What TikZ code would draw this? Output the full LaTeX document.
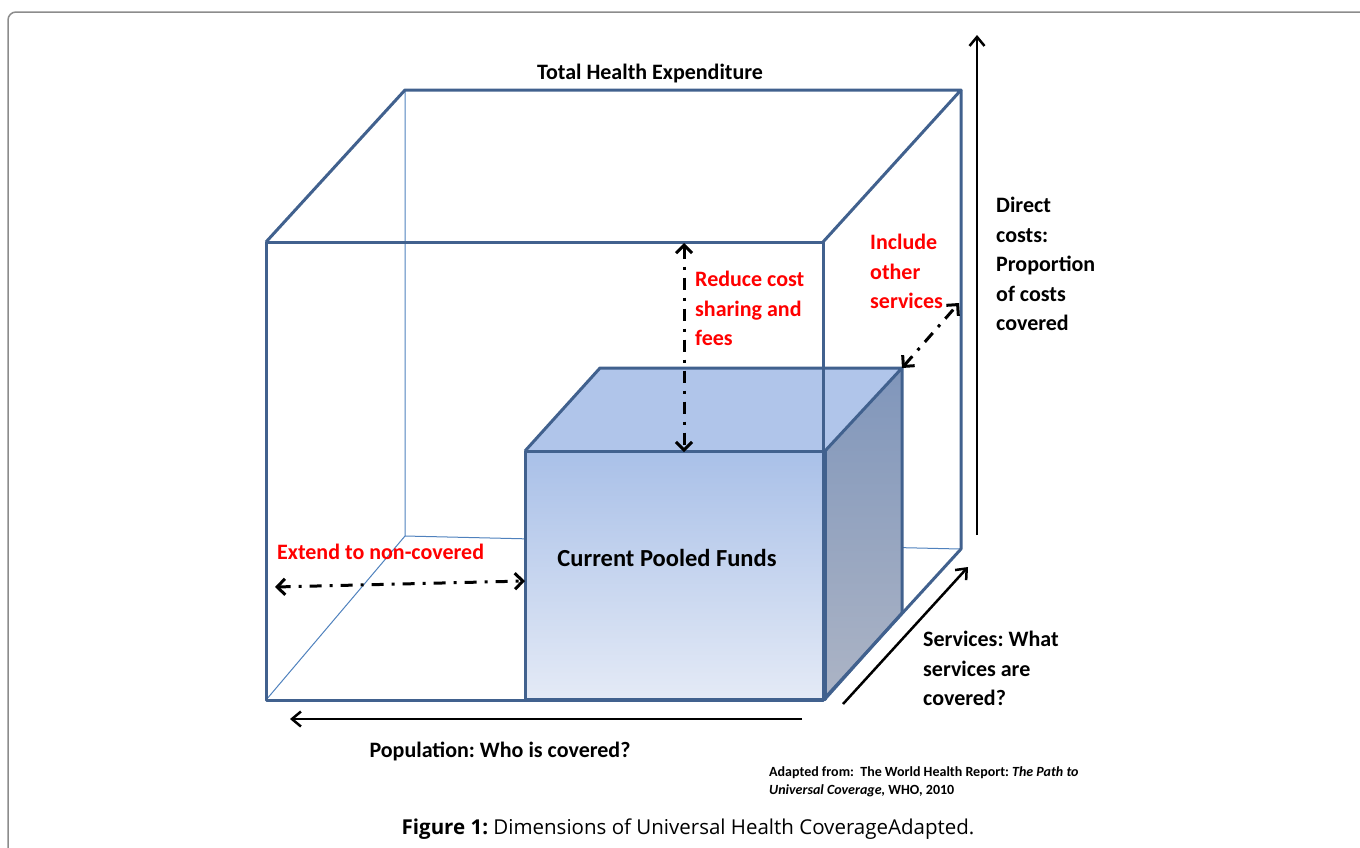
\documentclass[tikz,border=0pt]{standalone}
\usepackage{fontspec}
\setmainfont{Carlito}
\newfontfamily\capfont{Open Sans}
\frenchspacing
\usetikzlibrary{arrows.meta}
\definecolor{boxblue}{RGB}{65,97,142}
\definecolor{thinblue}{RGB}{79,129,189}
\definecolor{framegray}{RGB}{140,140,140}
\definecolor{fundtop}{RGB}{169,192,232}
\definecolor{fundbottom}{RGB}{228,234,246}
\definecolor{fundlid}{RGB}{176,197,234}
\definecolor{sidetop}{RGB}{128,150,187}
\definecolor{sidebottom}{RGB}{172,180,197}
\tikzset{outerline/.style={draw=boxblue, line width=3pt, line join=round},
%thin lines are the hidden back edges
backline/.style={draw=thinblue, line width=1pt},
dimarrow/.style={draw=black, line width=2.5pt, -{Straight Barb[length=9pt,width=15pt]}},
widen/.style={draw=black, line width=3pt, dash pattern=on 12pt off 8pt on 3pt off 8pt,
  {Straight Barb[length=8pt,width=16pt]}-{Straight Barb[length=8pt,width=16pt]}},
dimtext/.style={font=\fontsize{22}{29.5}\selectfont\bfseries, align=left, inner sep=0pt},
redtext/.style={dimtext, text=red}}

\begin{document}
\begin{tikzpicture}[x=1pt, y=-1pt]
    \useasboundingbox (0,0) rectangle (1360,847);
    \draw[framegray, line width=1.5pt, rounded corners=8pt] (1400,12) -- (8,12) -- (8,900);

    % back edges of the total box
    \draw[backline] (405,90) -- (405,536) -- (960,549);
    \draw[backline] (266,700) -- (405,536);

    % current pooled funds
    \shade[top color=fundtop, bottom color=fundbottom] (525,451) rectangle (825,699);
    \fill[fundlid] (525,451) -- (600,368) -- (902,368) -- (825,451) -- cycle;
    \shade[top color=sidetop, bottom color=sidebottom] (825,451) -- (902,368) -- (902,613) -- (825,699) -- cycle;
    \draw[outerline] (525,451) rectangle (825,699);
    \draw[outerline] (525,451) -- (600,368) -- (902,368) -- (825,451);
    \draw[outerline] (902,368) -- (902,613) -- (825,699);

    % front of the total box
    \draw[outerline] (266,242) rectangle (823,700);
    \draw[outerline] (266,242) -- (405,90) -- (961,90) -- (823,242);
    \draw[outerline] (961,90) -- (961,549) -- (823,700);

    \node[dimtext] (total) at (650,74) {Total Health Expenditure};
    \node[dimtext, font=\fontsize{24.5}{28}\selectfont\bfseries] (pooled) at (667,558) {Current Pooled Funds};
    \node[dimtext, anchor=north west] (direct) at (996,197) {Direct\\costs:\\Proportion\\of costs\\covered};
    \node[dimtext, anchor=north west] (services) at (923,631) {Services: What\\services are\\covered?};
    \node[dimtext] (population) at (500,751) {Population: Who is covered?};
    \node[redtext, anchor=north west] (include) at (870,234) {Include\\other\\services};
    \node[redtext, anchor=north west] (reduce) at (695,271) {Reduce cost\\sharing and\\fees};
    \node[redtext, anchor=west] (extend) at (277,552) {Extend to non-covered};
    \node[font=\fontsize{14}{18}\selectfont\bfseries, align=left, inner sep=0pt, anchor=north west] (source) at (769,766)
        {Adapted from:\ \ The World Health Report: \textit{The Path to}\\\textit{Universal Coverage,} WHO, 2010};
    \node[font=\fontsize{20.5}{22}\selectfont\capfont, inner sep=0pt] (caption) at (688,829)
        {\textbf{Figure 1:} Dimensions of Universal Health CoverageAdapted.};

    % axes
    \coordinate (costlow) at (977,535);
    \coordinate (costhigh) at (977,35);
    \coordinate (servlow) at (843,704);
    \coordinate (servhigh) at (968,567);
    \coordinate (poplow) at (802,719);
    \coordinate (pophigh) at (290,719);
    \draw[dimarrow] (costlow) -- (costhigh);
    \draw[dimarrow] (servlow) -- (servhigh);
    \draw[dimarrow] (poplow) -- (pophigh);

    % gaps to close
    \coordinate (extleft) at (275,587);
    \coordinate (extright) at (525,581);
    \coordinate (redtop) at (684,243);
    \coordinate (redbottom) at (684,452);
    \coordinate (inccube) at (902,368);
    \coordinate (incwall) at (959,303);
    \draw[widen] (extleft) -- (extright);
    \draw[widen] (redtop) -- (redbottom);
    \draw[widen] (inccube) -- (incwall);
\end{tikzpicture}
\end{document}
